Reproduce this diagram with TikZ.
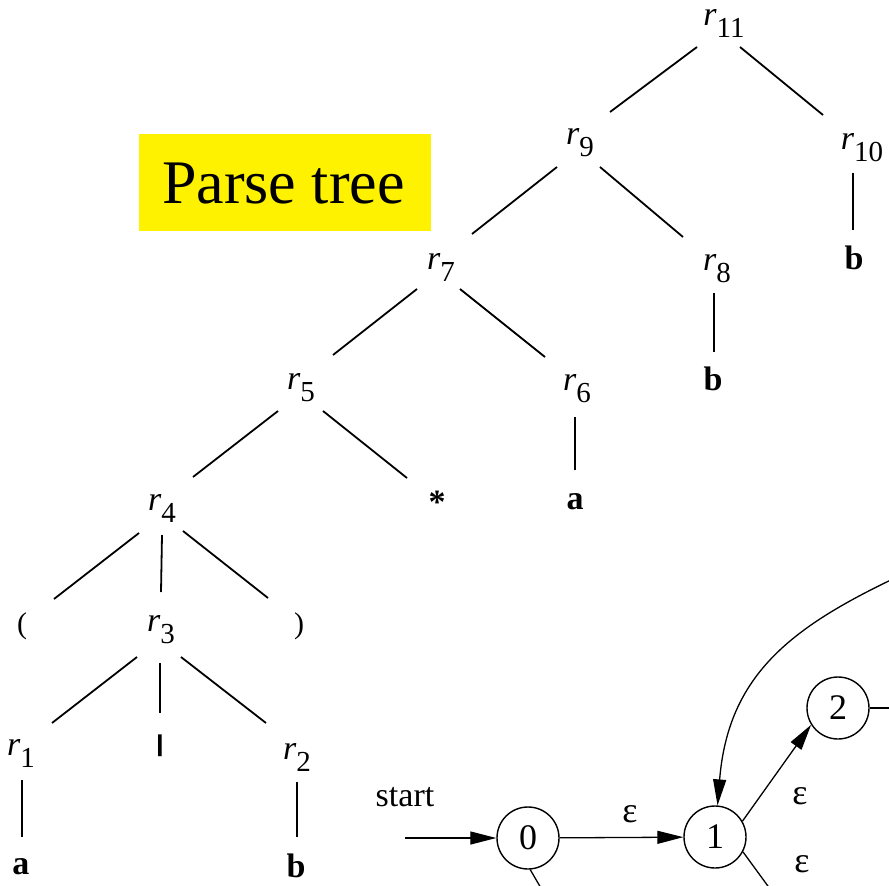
\documentclass[tikz,border=0pt]{standalone}
\usepackage{fontspec}
\setmainfont{Liberation Serif}
\usetikzlibrary{arrows.meta}
\newcommand{\rlab}[1]{\textit{r}\raisebox{-12pt}{\fontsize{29}{29}\selectfont #1}}
\newcommand{\tedge}[4]{\draw[edge] ([shift={#2}]#1.center) -- ([shift={#4}]#3.center);}
\begin{document}
\begin{tikzpicture}[x=1pt,y=-1pt,
  lab/.style={inner sep=0pt, font=\fontsize{34}{40}\selectfont},
  term/.style={inner sep=0pt, font=\fontsize{34}{40}\selectfont\bfseries},
  edge/.style={line width=1.8pt, black},
  state/.style={circle, draw, line width=1.4pt, minimum size=62pt, inner sep=0pt, font=\fontsize{36}{40}\selectfont},
  trans/.style={line width=1.3pt, -{Triangle[length=26pt,width=13pt]}},
  nline/.style={line width=1.3pt},
  eps/.style={inner sep=0pt, font=\fontsize{36}{40}\selectfont},
  ptbox/.style={fill=yellow, inner sep=0pt, minimum width=292pt, minimum height=97pt}
]
\useasboundingbox (0,0) rectangle (889,886);
\clip (0,0) rectangle (889,886);

% Parse tree label
\node[ptbox] (pt) at (285,182.5) {};
\node[anchor=base, inner sep=0pt, font=\fontsize{62}{70}\selectfont] (ptlabel) at (283.5,203) {Parse tree};

% tree nodes
\node[lab] (r11) at (724,23) {\rlab{11}};
\node[lab] (r9) at (580,143) {\rlab{9}};
\node[lab] (r10) at (862,148) {\rlab{10}};
\node[term] (b10) at (854,258) {b};
\node[lab] (r7) at (441,267) {\rlab{7}};
\node[lab] (r8) at (717,269) {\rlab{8}};
\node[term] (b8) at (713,379) {b};
\node[lab] (r5) at (301,388) {\rlab{5}};
\node[lab] (r6) at (577,389) {\rlab{6}};
\node[term, anchor=base] (star) at (437,513) {*};
\node[term] (a6) at (575,502) {a};
\node[lab] (r4) at (162,508) {\rlab{4}};
\node[inner sep=0pt, font=\fontsize{30}{34}\selectfont] (lp) at (22,626) {(};
\node[lab] (r3) at (161,630) {\rlab{3}};
\node[inner sep=0pt, font=\fontsize{30}{34}\selectfont] (rp) at (299,626) {)};
\node[lab] (r1) at (21,753) {\rlab{1}};
\node[inner sep=0pt, font=\fontsize{24}{24}\selectfont\bfseries] (bar) at (160,746) {\scalebox{2.2}[1]{|}};
\node[lab] (r2) at (297,757) {\rlab{2}};
\node[term] (a1) at (21,867) {a};
\node[term] (b2) at (296,866) {b};

% tree edges
\tedge{r11}{(-27,24)}{r9}{(30,-31)}
\tedge{r11}{(16,24)}{r10}{(-39,-33)}
\tedge{r9}{(-23,24)}{r7}{(31,-33)}
\tedge{r9}{(20,24)}{r8}{(-34,-32)}
\tedge{r10}{(-9,25)}{b10}{(-1,-28)}
\tedge{r7}{(-24,22)}{r5}{(32,-33)}
\tedge{r7}{(19,22)}{r6}{(-32,-32)}
\tedge{r8}{(-3,24)}{b8}{(1,-27)}
\tedge{r5}{(-23,23)}{r4}{(31,-31)}
\draw[edge] ([shift={(22,23)}]r5.center) -- ([shift={(-30,-35)}]star.base);
\tedge{r6}{(-2,28)}{a6}{(0,-32)}
\tedge{r4}{(-23,25)}{lp}{(32,-27)}
\tedge{r4}{(0,27)}{r3}{(0,-38)}
\tedge{r4}{(21,23)}{rp}{(-31,-28)}
\tedge{r3}{(-24,27)}{r1}{(31,-30)}
\tedge{r3}{(-1,33)}{bar}{(0,-33)}
\tedge{r3}{(20,27)}{r2}{(-31,-34)}
\tedge{r1}{(1,27)}{a1}{(1,-30)}
\tedge{r2}{(0,25)}{b2}{(1,-29)}

% NFA fragment
\node[inner sep=0pt, font=\fontsize{34}{40}\selectfont] (startlbl) at (405,797) {start};
\coordinate (startpt) at (405,838);
\node[state] (s0) at (528,838) {0};
\node[state] (s1) at (715,837) {1};
\node[state] (s2) at (838,708) {2};
\coordinate (c0) at (545,895);
\coordinate (c1) at (773,893);
\coordinate (c2) at (895,708);
\coordinate (cstart) at (895,578);

\draw[trans] (startpt) -- (s0);
\draw[trans] (s0) -- (s1);
\node[eps] (e01) at (630,814) {ε};
\draw[trans] (s1.30) -- (s2.212);
\node[eps] (e12) at (800,796) {ε};
\draw[nline] (s1.-28) -- (c1);
\node[eps] (e13) at (802,864) {ε};
\draw[nline] (s0.-86) -- (c0);
\draw[nline] (s2.east) -- (c2);
\draw[trans] (cstart) .. controls (790,628) and (728,676) .. (s1);
\end{tikzpicture}
\end{document}
